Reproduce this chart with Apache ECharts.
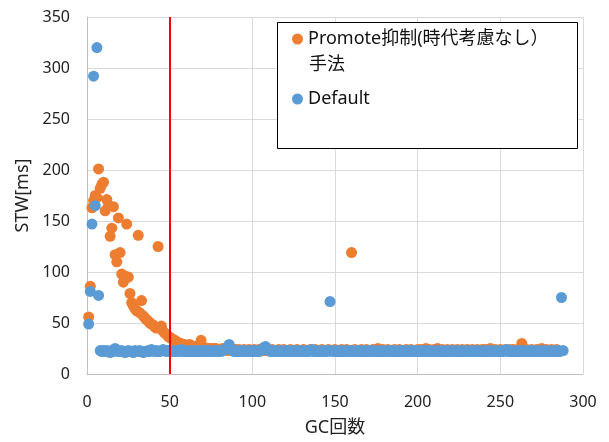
<!DOCTYPE html>
<html lang="ja">
<head>
    <meta charset="UTF-8">
    <title>STW</title>
    <script src="https://cdn.jsdelivr.net/npm/echarts@6/dist/echarts.min.js"></script>
    <style>
        html, body { margin: 0; padding: 0; background: #fff; }
        #chart { width: 609px; height: 442px; }
    </style>
</head>
<body>
    <div id="chart"></div>
    <script>
        // 軸
        const xTicks = [0, 50, 100, 150, 200, 250, 300];
        const yTicks = [0, 50, 100, 150, 200, 250, 300, 350];
        const splitX = 50; // 赤線の位置

        const seriesNames = ['Promote抑制(時代考慮なし）\n手法', 'Default'];

        // Promote抑制 (GC回数 1〜285 の STW[ms])
        const promoteStw = [
            56, 86, 163, 170, 175, 173, 201, 182, 186, 188,
            160, 171, 165, 135, 143, 164, 117, 110, 153, 119,
            98, 90, 96, 147, 95, 79, 70, 67, 64, 62,
            136, 60, 72, 57, 55, 53, 52, 50, 49, 48,
            46, 45, 125, 45, 47, 42, 40, 39, 37, 36,
            35, 34, 33, 32, 31, 30, 30, 29, 29, 28,
            28, 29, 28, 27, 27, 27, 26, 26, 33, 26,
            26, 25, 25, 25, 25, 24, 25, 25, 24, 24,
            24, 25, 24, 24, 23, 24, 24, 23, 24, 24,
            23, 24, 23, 23, 24, 23, 23, 24, 23, 23,
            24, 23, 23, 24, 23, 23, 23, 24, 23, 23,
            23, 24, 23, 23, 23, 24, 23, 23, 24, 23,
            23, 23, 24, 23, 23, 23, 24, 23, 23, 23,
            24, 23, 23, 23, 24, 23, 23, 24, 23, 23,
            23, 24, 23, 23, 23, 24, 23, 23, 23, 24,
            23, 23, 23, 24, 23, 23, 24, 23, 23, 119,
            23, 24, 23, 23, 23, 24, 23, 23, 24, 23,
            23, 23, 24, 23, 23, 25, 23, 23, 24, 23,
            23, 24, 23, 23, 23, 24, 23, 23, 24, 23,
            23, 23, 24, 23, 23, 24, 23, 23, 23, 24,
            23, 24, 23, 23, 25, 23, 24, 23, 23, 24,
            23, 25, 23, 23, 24, 23, 23, 24, 23, 23,
            24, 23, 23, 24, 23, 23, 24, 23, 23, 24,
            23, 23, 24, 23, 23, 24, 23, 23, 24, 23,
            24, 23, 23, 25, 23, 23, 24, 23, 23, 24,
            23, 23, 24, 23, 23, 24, 23, 24, 23, 23,
            24, 25, 30, 24, 23, 24, 23, 23, 24, 23,
            23, 24, 23, 23, 25, 23, 23, 24, 23, 23,
            24, 23, 23, 24, 23
        ];

        // Default (GC回数 1〜288 の STW[ms])
        const defaultStw = [
            49, 81, 147, 292, 165, 320, 77, 23, 22, 23,
            22, 23, 22, 21, 23, 22, 25, 23, 22, 22,
            23, 22, 21, 22, 23, 22, 22, 21, 23, 22,
            22, 23, 22, 21, 22, 22, 23, 22, 24, 23,
            22, 23, 22, 22, 23, 24, 23, 22, 23, 22,
            23, 22, 22, 23, 22, 23, 24, 22, 23, 22,
            22, 23, 22, 22, 23, 22, 22, 23, 22, 23,
            22, 23, 22, 23, 22, 22, 23, 22, 23, 22,
            22, 23, 24, 25, 26, 29, 25, 23, 22, 23,
            22, 22, 23, 22, 23, 22, 22, 23, 22, 23,
            22, 23, 22, 22, 23, 24, 26, 27, 24, 23,
            22, 23, 22, 23, 22, 22, 23, 22, 22, 23,
            22, 23, 22, 22, 23, 22, 23, 22, 22, 23,
            22, 22, 23, 22, 23, 24, 22, 23, 22, 22,
            23, 22, 22, 23, 22, 23, 71, 22, 23, 22,
            22, 23, 22, 22, 23, 22, 23, 22, 22, 23,
            22, 22, 23, 22, 23, 22, 22, 23, 22, 22,
            23, 22, 23, 22, 22, 23, 22, 22, 23, 22,
            22, 23, 22, 23, 22, 22, 23, 22, 22, 23,
            22, 23, 22, 22, 23, 22, 23, 22, 22, 23,
            22, 22, 23, 22, 23, 22, 22, 23, 22, 22,
            23, 22, 23, 22, 22, 23, 22, 22, 23, 22,
            22, 23, 22, 23, 22, 22, 23, 22, 22, 23,
            22, 23, 22, 22, 23, 22, 23, 22, 22, 23,
            22, 22, 23, 22, 23, 22, 22, 23, 22, 22,
            23, 22, 23, 24, 22, 23, 22, 22, 23, 22,
            22, 23, 22, 23, 22, 22, 23, 22, 22, 23,
            22, 23, 22, 22, 23, 22, 23, 22, 22, 23,
            22, 22, 23, 22, 23, 22, 75, 23
        ];

        const fontFamily = '"Noto Sans", "Noto Sans CJK JP", sans-serif';
        const toPoints = arr => arr.map((v, i) => [i + 1, v]);

        const chart = echarts.init(document.getElementById('chart'));

        const option = {
            animation: false,
            backgroundColor: '#fff',
            textStyle: { fontFamily: fontFamily },
            grid: { left: 87, right: 26, top: 17, bottom: 65, containLabel: false },
            xAxis: {
                type: 'value',
                min: xTicks[0],
                max: xTicks[xTicks.length - 1],
                interval: 50,
                name: 'GC回数',
                nameLocation: 'middle',
                nameGap: 45,
                nameTextStyle: { fontSize: 18, color: '#222', fontFamily: fontFamily },
                axisLine: { lineStyle: { color: '#bfbfbf', width: 1 } },
                axisTick: { show: false },
                axisLabel: { fontSize: 16, color: '#222', margin: 20 },
                splitLine: { show: true, lineStyle: { color: '#d9d9d9', width: 1 } }
            },
            yAxis: {
                type: 'value',
                min: yTicks[0],
                max: yTicks[yTicks.length - 1],
                interval: 50,
                name: 'STW[ms]',
                nameLocation: 'middle',
                nameGap: 54,
                nameTextStyle: { fontSize: 18, color: '#222', fontFamily: fontFamily },
                axisLine: { show: true, lineStyle: { color: '#bfbfbf', width: 1 } },
                axisTick: { show: false },
                axisLabel: { fontSize: 16, color: '#222', margin: 17 },
                splitLine: { show: true, lineStyle: { color: '#d9d9d9', width: 1 } }
            },
            // 凡例の枠と2行目
            graphic: [
                {
                    type: 'rect',
                    left: 277,
                    top: 22,
                    z: 10,
                    shape: { width: 300, height: 126 },
                    style: { fill: '#fff', stroke: '#000', lineWidth: 1 }
                },
                {
                    type: 'text',
                    left: 309,
                    top: 56,
                    z: 11,
                    style: { text: '手法', fontSize: 18, fill: '#111', fontFamily: fontFamily }
                }
            ],
            legend: {
                orient: 'vertical',
                left: 292,
                top: 28,
                z: 12,
                padding: 0,
                itemGap: 38,
                itemWidth: 11,
                itemHeight: 11,
                icon: 'circle',
                data: seriesNames,
                formatter: name => name.split('\n')[0],
                textStyle: { fontSize: 18, color: '#111', lineHeight: 22, fontFamily: fontFamily }
            },
            series: [
                {
                    name: seriesNames[0],
                    type: 'scatter',
                    symbolSize: 11,
                    itemStyle: { color: '#ED7D31', opacity: 1 },
                    data: toPoints(promoteStw),
                    markLine: {
                        silent: true,
                        symbol: ['none', 'none'],
                        label: { show: false },
                        lineStyle: { color: '#ff0000', width: 2, type: 'solid' },
                        data: [{ xAxis: splitX }]
                    }
                },
                {
                    name: seriesNames[1],
                    type: 'scatter',
                    symbolSize: 11,
                    itemStyle: { color: '#5B9BD5', opacity: 1 },
                    data: toPoints(defaultStw)
                }
            ]
        };

        chart.setOption(option);
    </script>
</body>
</html>
